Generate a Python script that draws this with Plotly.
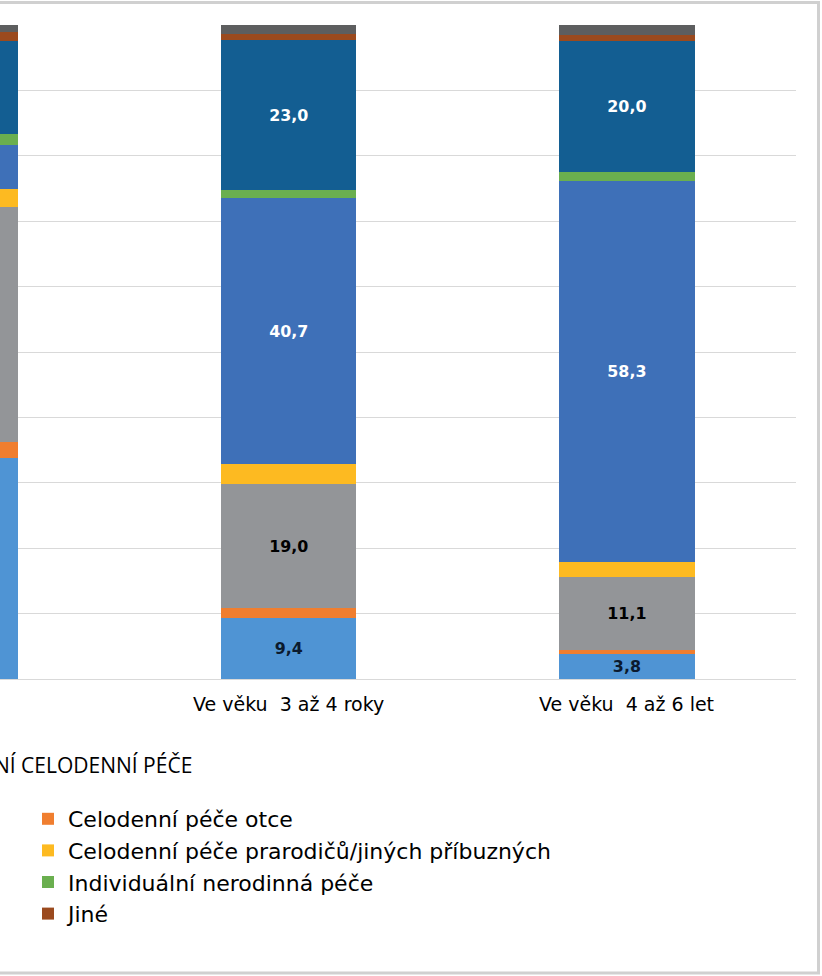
import plotly.graph_objects as go

categories = ["Ve věku  2 až 3 roky", "Ve věku  3 až 4 roky", "Ve věku  4 až 6 let"]

series_names = [
    "Celodenní péče matky",
    "Celodenní péče otce",
    "Kombinace rodinné péče",
    "Celodenní péče prarodičů/jiných příbuzných",
    "Mateřská škola",
    "Individuální nerodinná péče",
    "Kombinace rodinné a institucionální péče",
    "Jiné",
    "Neuvedeno",
]
matky = [33.8, 9.4, 3.8]
otce = [2.4, 1.4, 0.7]
kombinace_rodinna = [36.0, 19.0, 11.1]
prarodice = [2.8, 3.0, 2.3]
materska_skola = [6.7, 40.7, 58.3]
individualni = [1.7, 1.2, 1.4]
kombinace_inst = [14.1, 23.0, 20.0]
jine = [1.4, 1.0, 0.9]
neuvedeno = [1.1, 1.3, 1.5]

series_values = [matky, otce, kombinace_rodinna, prarodice, materska_skola,
                 individualni, kombinace_inst, jine, neuvedeno]
colors = ["#4F94D4", "#F07E2F", "#939598", "#FDBA21", "#3E70B8",
          "#6AAF4F", "#135E92", "#9B4A1E", "#5D5E5F"]
labelled = {0: "#0B1A2E", 2: "#000000", 4: "#FFFFFF", 6: "#FFFFFF"}
legend_visible = {1, 3, 5, 7}

axis_title = "FORMA PŘEDŠKOLNÍ CELODENNÍ PÉČE"

fig = go.Figure()
for i, (name, vals, col) in enumerate(zip(series_names, series_values, colors)):
    if i in labelled:
        kw = dict(texttemplate="%{y:.1f}", textposition="inside", insidetextanchor="middle",
                  textfont=dict(family="DejaVu Sans", size=16, color=labelled[i], weight="bold"),
                  textangle=0)
    else:
        kw = dict(texttemplate="")
    fig.add_trace(go.Bar(
        x=categories, y=vals, name=name, marker=dict(color=col, line=dict(width=0)),
        showlegend=i in legend_visible, legendgroup=f"g{i}", hoverinfo="skip", **kw))

W, H = 822, 976
ml, mr, mt, mb = 0, 26, 25, 297
pw = W - ml - mr
ph = H - mt - mb

def px_x(px):
    return (px - ml) / pw

def px_y(py):
    return (H - mb - py) / ph

fig.update_layout(
    width=W, height=H,
    barmode="stack", bargap=0.6,
    separators=", ",
    uniformtext=dict(mode="show", minsize=8),
    margin=dict(l=ml, r=mr, t=mt, b=mb, autoexpand=False),
    paper_bgcolor="white", plot_bgcolor="white",
    xaxis=dict(type="category", range=[-0.5 + 0.6464, 2.5], showticklabels=False,
               showgrid=False, zeroline=False, showline=False, ticks=""),
    yaxis=dict(range=[0, 100], dtick=10, showticklabels=False, showgrid=True,
               gridcolor="#D9D9D9", gridwidth=1, zeroline=True, zerolinecolor="#D9D9D9",
               zerolinewidth=1, ticks=""),
    legend=dict(x=px_x(28), y=px_y(798), xanchor="left", yanchor="top",
                orientation="v", traceorder="grouped", tracegroupgap=0,
                font=dict(family="DejaVu Sans", size=22, color="#000000"),
                bgcolor="rgba(0,0,0,0)", itemclick=False),
    font=dict(family="DejaVu Sans"),
    showlegend=True,
)

for c in categories:
    fig.add_annotation(x=c, xref="x", y=0, yref="paper", yanchor="top", yshift=-12,
                       text=c, showarrow=False,
                       font=dict(family="DejaVu Sans", size=19, color="#000000"))

fig.add_annotation(x=px_x(194), xref="paper", y=px_y(765), yref="paper",
                   xanchor="right", yanchor="middle", text=axis_title, showarrow=False,
                   font=dict(family="Open Sans", size=21, color="#000000"))

fig.add_shape(type="rect", xref="paper", yref="paper",
              x0=px_x(-800), x1=px_x(818.5), y0=px_y(973), y1=px_y(2.5),
              line=dict(color="#D0D0D0", width=3), fillcolor="rgba(0,0,0,0)", layer="below")

fig.write_html("out.html", config={"displayModeBar": False},
               post_script="document.body.style.margin='0';document.body.style.overflow='hidden';")
